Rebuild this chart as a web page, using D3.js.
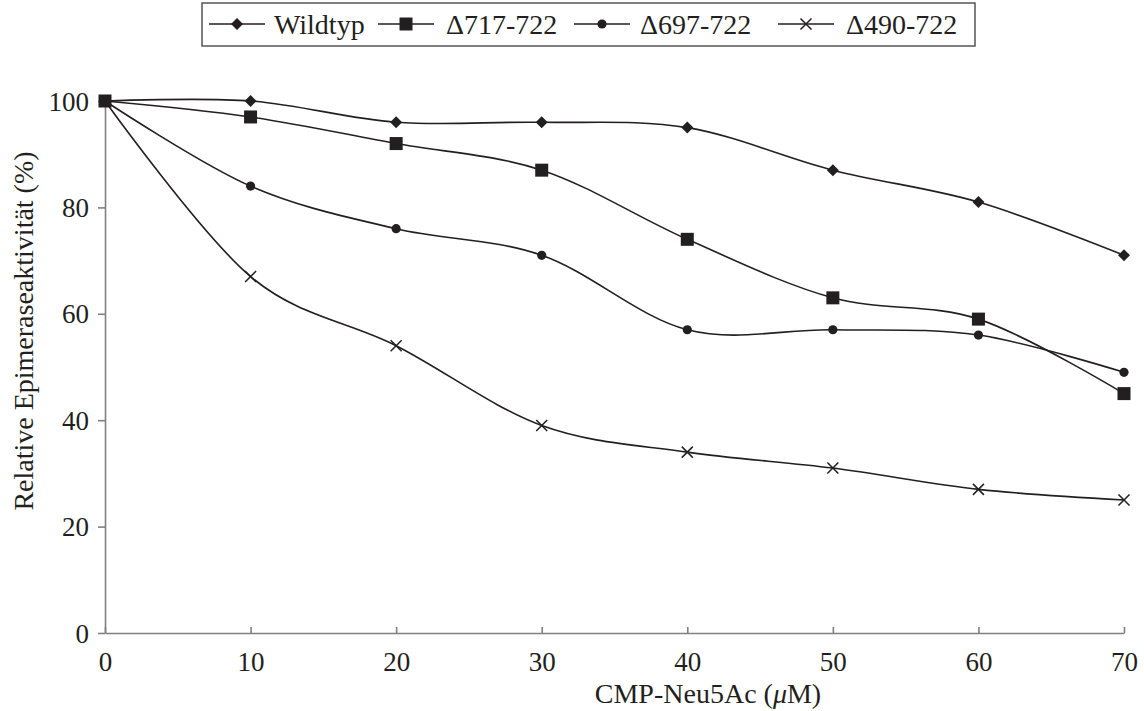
<!DOCTYPE html>
<html><head><meta charset="utf-8">
<script src="https://cdn.jsdelivr.net/npm/d3@7"></script>
<style>body{margin:0;background:#fff}svg{display:block}svg text{font-family:"Liberation Serif","Times New Roman",Tinos,"DejaVu Serif",serif !important;fill:#231f20}</style>
</head><body><svg id="c" width="1144" height="711"></svg>
<script>
const xValues = [0, 10, 20, 30, 40, 50, 60, 70];
const seriesNames = ["Wildtyp", "\u0394717-722", "\u0394697-722", "\u0394490-722"];
const wildtyp = [100, 100, 96, 96, 95, 87, 81, 71];
const d717 = [100, 97, 92, 87, 74, 63, 59, 45];
const d697 = [100, 84, 76, 71, 57, 57, 56, 49];
const d490 = [100, 67, 54, 39, 34, 31, 27, 25];
const markerTypes = ["diamond", "square", "circle", "cross"];
const yTicks = [0, 20, 40, 60, 80, 100];
const xTicks = [0, 10, 20, 30, 40, 50, 60, 70];

const series = [wildtyp, d717, d697, d490];
const svg = d3.select("#c");
const FONT = '"Liberation Serif","Times New Roman",Tinos,"DejaVu Serif",serif';
const x = d3.scaleLinear().domain([0, 70]).range([105, 1124]);
const y = d3.scaleLinear().domain([0, 100]).range([633, 101]);
const ink = "#231f20", axisCol = "#808080";
const fs = 27;

// axes
const gx = svg.append("g").attr("transform", `translate(0,${y(0)})`)
  .call(d3.axisBottom(x).tickValues(xTicks).tickSizeInner(-6).tickSizeOuter(0).tickPadding(19));
const gy = svg.append("g").attr("transform", `translate(${x(0)},0)`)
  .call(d3.axisLeft(y).tickValues(yTicks).tickSizeInner(7).tickSizeOuter(0).tickPadding(9));
[gx, gy].forEach(g => {
  g.attr("font-family", FONT);
  g.select(".domain").attr("stroke", axisCol).attr("stroke-width", 1.6);
  g.selectAll(".tick line").attr("stroke", axisCol).attr("stroke-width", 1.6);
  g.selectAll(".tick text").attr("font-size", fs).attr("fill", ink).attr("font-family", FONT);
});
gx.selectAll(".tick text").attr("dy", "0.71em");
gy.selectAll(".tick text").attr("dy", "0.34em");

// axis titles
svg.append("text").attr("x", 708).attr("y", 703).attr("text-anchor", "middle").attr("font-size", 28)
  .attr("font-family", FONT)
  .html('CMP-Neu5Ac (<tspan font-style="italic">\u03bc</tspan>M)');
svg.append("text").attr("transform", `translate(33,331) rotate(-90)`)
  .attr("font-family", FONT)
  .attr("text-anchor", "middle").attr("font-size", 28).text("Relative Epimeraseaktivit\u00e4t (%)");

function marker(g, type, cx, cy) {
  if (type === "diamond") {
    g.append("path").attr("d", `M${cx},${cy-6}L${cx+6},${cy}L${cx},${cy+6}L${cx-6},${cy}Z`).attr("fill", ink);
  } else if (type === "square") {
    g.append("rect").attr("x", cx-6.5).attr("y", cy-6.5).attr("width", 13).attr("height", 13).attr("fill", ink);
  } else if (type === "circle") {
    g.append("circle").attr("cx", cx).attr("cy", cy).attr("r", 4.6).attr("fill", ink);
  } else {
    g.append("path").attr("d", `M${cx-5.5},${cy-5.5}L${cx+5.5},${cy+5.5}M${cx-5.5},${cy+5.5}L${cx+5.5},${cy-5.5}`)
      .attr("stroke", ink).attr("stroke-width", 1.5).attr("fill", "none");
  }
}

const line = d3.line().x((d, i) => x(xValues[i])).y(d => y(d)).curve(d3.curveCardinal.tension(0));
series.forEach((s, k) => {
  svg.append("path").datum(s).attr("d", line).attr("fill", "none").attr("stroke", ink).attr("stroke-width", 1.6);
});
series.forEach((s, k) => {
  const g = svg.append("g");
  s.forEach((v, i) => marker(g, markerTypes[k], x(xValues[i]), y(v)));
});

// legend
const lg = svg.append("g");
lg.append("rect").attr("x", 202).attr("y", 3).attr("width", 773).attr("height", 43)
  .attr("fill", "#fff").attr("stroke", "#555").attr("stroke-width", 1.5);
const lineStarts = [209, 378, 574, 778];
const textStarts = [274, 446, 640, 846];
seriesNames.forEach((n, k) => {
  const g = lg.append("g");
  g.append("line").attr("x1", lineStarts[k]).attr("x2", lineStarts[k] + 56).attr("y1", 24).attr("y2", 24).attr("stroke", ink).attr("stroke-width", 1.6);
  marker(g, markerTypes[k], lineStarts[k] + 28, 24);
  g.append("text").attr("x", textStarts[k]).attr("y", 24).attr("dy", "0.34em").attr("font-size", 28)
    .attr("font-family", FONT).text(n);
});
</script></body></html>
